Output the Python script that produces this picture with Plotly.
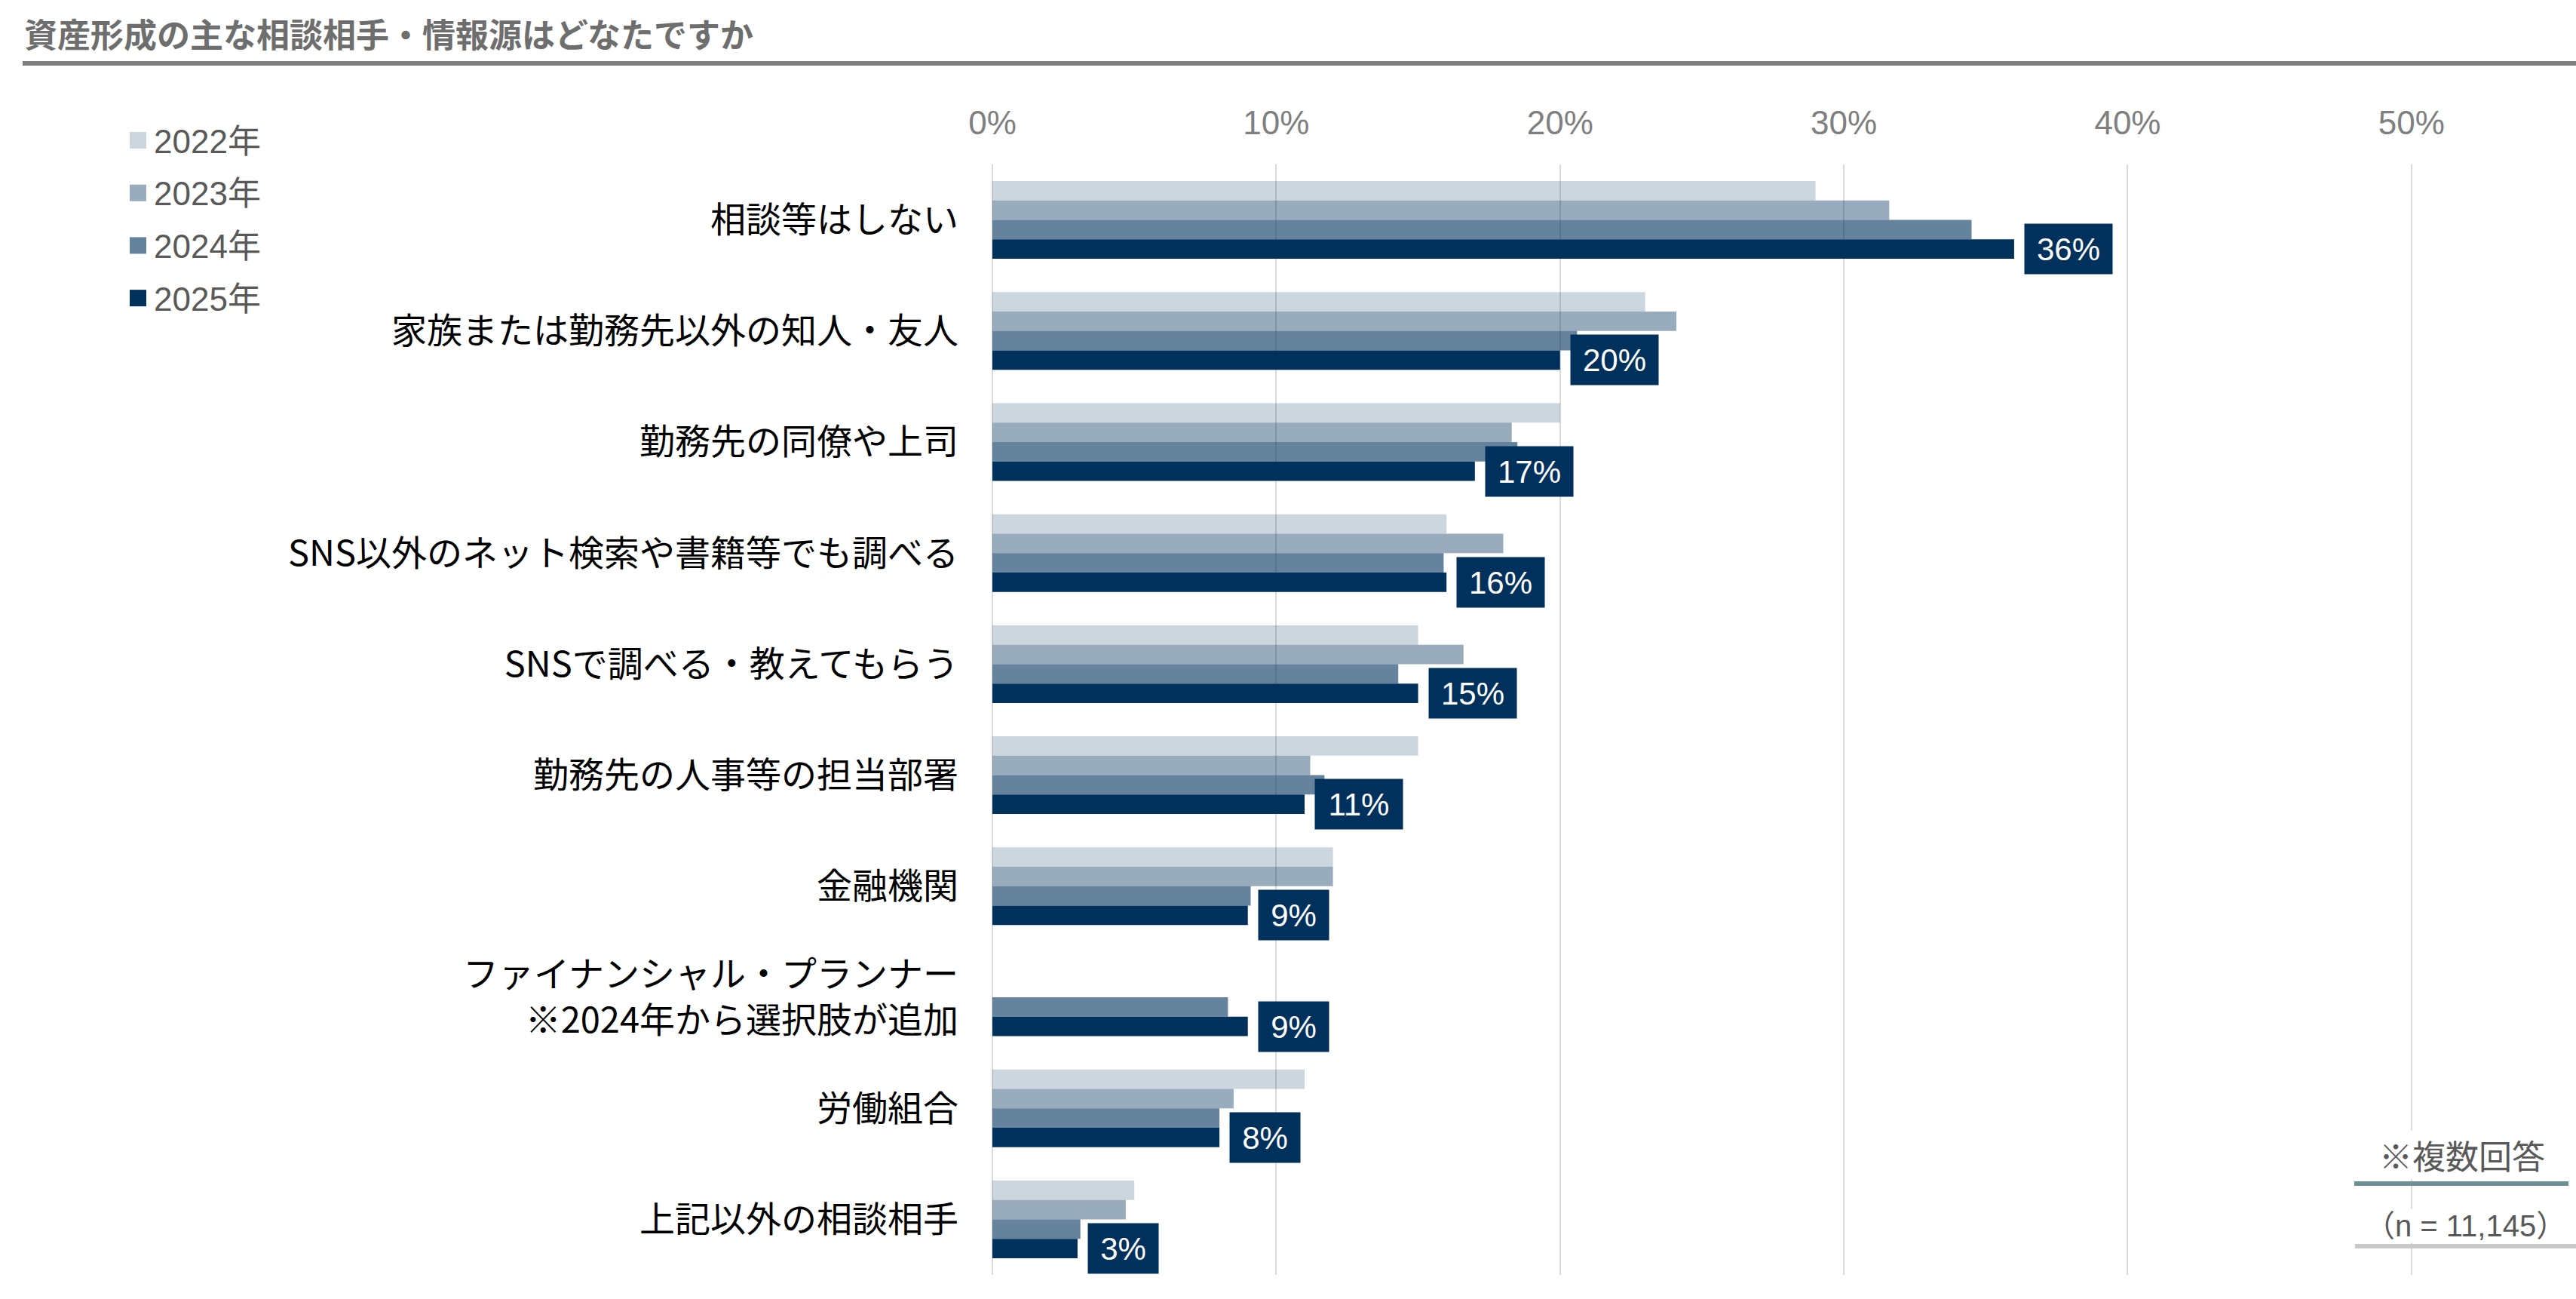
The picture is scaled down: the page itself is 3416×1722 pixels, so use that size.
import plotly.graph_objects as go

categories = [
    "相談等はしない",
    "家族または勤務先以外の知人・友人",
    "勤務先の同僚や上司",
    "SNS以外のネット検索や書籍等でも調べる",
    "SNSで調べる・教えてもらう",
    "勤務先の人事等の担当部署",
    "金融機関",
    "ファイナンシャル・プランナー<br>※2024年から選択肢が追加",
    "労働組合",
    "上記以外の相談相手",
]
years = ["2022年", "2023年", "2024年", "2025年"]
v2022 = [29.0, 23.0, 20.0, 16.0, 15.0, 15.0, 12.0, None, 11.0, 5.0]
v2023 = [31.6, 24.1, 18.3, 18.0, 16.6, 11.2, 12.0, None, 8.5, 4.7]
v2024 = [34.5, 20.6, 18.5, 15.9, 14.3, 11.7, 9.1, 8.3, 8.0, 3.1]
v2025 = [36.0, 20.0, 17.0, 16.0, 15.0, 11.0, 9.0, 9.0, 8.0, 3.0]
series = [v2022, v2023, v2024, v2025]
opacities = [0.2, 0.4, 0.6, 1.0]
tick_vals = [0, 10, 20, 30, 40, 50]
tick_text = ["0%", "10%", "20%", "30%", "40%", "50%"]

W, H = 3416, 1722
L, R, T, B = 1316, 30, 218, 32
PW, PH = W - L - R, H - T - B


def px_x(x):
    return (x - L) / PW


def px_y(y):
    return (H - B - y) / PH


FONT = "Liberation Sans, Arial, Noto Sans CJK JP"
NAVY = "0,48,92"

fig = go.Figure()
for name, vals, op in zip(years, series, opacities):
    fig.add_trace(go.Bar(
        y=categories, x=vals, name=name, orientation="h",
        marker=dict(color=f"rgba({NAVY},{op})", line=dict(width=0)),
        showlegend=False, hoverinfo="x+name",
    ))

# custom legend (larger squares than the built-in legend allows)
for i, (name, op) in enumerate(zip(years, opacities)):
    cy = 186 + 69.7 * i
    fig.add_shape(type="rect", xref="paper", yref="paper",
                  x0=px_x(172), x1=px_x(194), y0=px_y(cy + 11), y1=px_y(cy - 11),
                  fillcolor=f"rgba({NAVY},{op})", line=dict(width=0))
    fig.add_annotation(
        xref="paper", yref="paper", x=px_x(202), y=px_y(cy + 1),
        text=name, showarrow=False, xanchor="left", yanchor="middle",
        font=dict(family=FONT, size=44, color="#595959"),
    )

# data labels for 2025
DIGIT_W, PCT_W = 0.556 * 42, 0.889 * 42
for i, v in enumerate(v2025):
    label = f"{v:.0f}%"
    tw = (len(label) - 1) * DIGIT_W + PCT_W
    fig.add_annotation(
        x=v, y=categories[i], xref="x", yref="y",
        text=label, showarrow=False,
        xanchor="left", yanchor="middle", xshift=13, yshift=-38.6,
        bgcolor=f"rgb({NAVY})", borderpad=0, width=round(tw + 32), height=66,
        font=dict(family=FONT, size=42, color="white"),
    )

# title
fig.add_annotation(
    xref="paper", yref="paper", x=px_x(30), y=px_y(44),
    text="<b>資産形成の主な相談相手・情報源はどなたですか</b>", showarrow=False,
    xanchor="left", yanchor="middle",
    font=dict(family="Noto Sans CJK JP", size=44, color="#6e6e6e"),
)
fig.add_shape(type="line", xref="paper", yref="paper",
              x0=px_x(30), x1=px_x(W), y0=px_y(84), y1=px_y(84),
              line=dict(color="#7f7f7f", width=6))

# notes bottom-right
fig.add_annotation(
    xref="paper", yref="paper", x=px_x(3265), y=px_y(1564),
    text="※複数回答", showarrow=False, xanchor="center", yanchor="bottom",
    bgcolor="white", borderpad=0,
    font=dict(family="Noto Sans CJK JP", size=44, color="#595959"),
)
fig.add_shape(type="line", xref="paper", yref="paper",
              x0=px_x(3122), x1=px_x(3406), y0=px_y(1569), y1=px_y(1569),
              line=dict(color="#6d9094", width=6))
fig.add_annotation(
    xref="paper", yref="paper", x=px_x(3269), y=px_y(1648),
    text="（n = 11,145）", showarrow=False, xanchor="center", yanchor="bottom",
    bgcolor="white", borderpad=0,
    font=dict(family=FONT, size=40, color="#595959"),
)
fig.add_shape(type="line", xref="paper", yref="paper",
              x0=px_x(3123), x1=px_x(W), y0=px_y(1652), y1=px_y(1652),
              line=dict(color="#c9c9c9", width=6))

fig.update_layout(
    width=W, height=H,
    margin=dict(l=L, r=R, t=T, b=B, pad=0),
    paper_bgcolor="white", plot_bgcolor="white",
    barmode="group", bargap=0.3, bargroupgap=0,
    font=dict(family=FONT, color="#000000"),
    showlegend=False,
    xaxis=dict(
        side="top", range=[0, 55], tickvals=tick_vals, ticktext=tick_text,
        showgrid=True, gridcolor="#d9d9d9", gridwidth=2,
        zeroline=True, zerolinecolor="#d9d9d9", zerolinewidth=2,
        showline=False, ticks="", ticklabelstandoff=30,
        tickfont=dict(family=FONT, size=44, color="#7f7f7f"),
        fixedrange=True,
    ),
    yaxis=dict(
        autorange="reversed", showgrid=False, zeroline=False, showline=False,
        ticks="", ticklabelstandoff=44,
        tickfont=dict(family="Noto Sans CJK JP", size=47, color="#000000"),
        fixedrange=True,
    ),
)

fig.write_html("out.html")
